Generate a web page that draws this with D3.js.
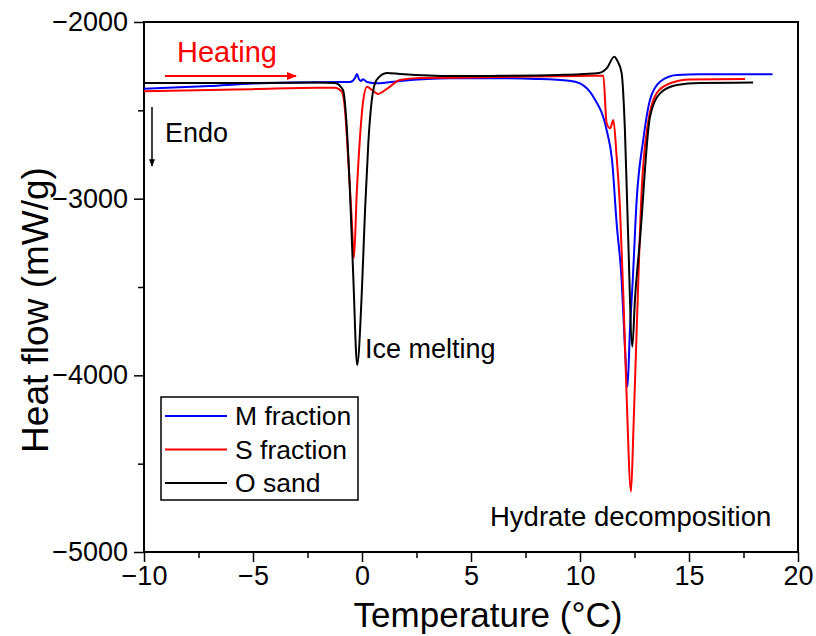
<!DOCTYPE html>
<html>
<head>
<meta charset="utf-8">
<script src="https://cdn.jsdelivr.net/npm/d3@7"></script>
<style>
  body { margin: 0; background: #fff; }
  svg { font-family: "Liberation Sans", Arial, sans-serif; }
</style>
</head>
<body>
<svg id="chart" width="816" height="636"></svg>
<script>
// Temperature (°C) / heat flow (mW/g) readings for each sample
const mFraction = [
    [-10, -2378], [-7, -2362], [-5, -2348], [-3, -2342], [-1, -2340], [-0.55, -2340],
    [-0.32, -2317], [-0.23, -2294], [-0.14, -2323], [-0.05, -2334], [0.05, -2324],
    [0.23, -2340], [0.69, -2347], [1.74, -2334], [4.04, -2319], [6, -2318], [8, -2322],
    [9.5, -2332], [10.0, -2347], [10.61, -2423], [11.22, -2611], [11.47, -2781],
    [11.68, -3138], [11.91, -3460], [12.06, -3838], [12.18, -4064], [12.29, -3743],
    [12.42, -3460], [12.60, -3007], [12.90, -2668], [13.21, -2441], [13.67, -2338],
    [14.44, -2300], [15.5, -2296], [18.83, -2296]
];
const sFraction = [
    [-10, -2392], [-7, -2385], [-5, -2380], [-2, -2372], [-1.24, -2372], [-0.92, -2396],
    [-0.78, -2498], [-0.63, -2781], [-0.47, -3121], [-0.37, -3336], [-0.24, -2968],
    [-0.09, -2649], [0.06, -2441], [0.23, -2366], [0.46, -2385], [0.73, -2407],
    [1.19, -2374], [1.74, -2328], [2.66, -2317], [4.04, -2315], [7, -2310], [10, -2305],
    [11.07, -2304], [11.22, -2572], [11.38, -2602], [11.53, -2555], [11.68, -2762],
    [11.83, -3045], [11.99, -3555], [12.14, -4121], [12.34, -4658], [12.45, -4309],
    [12.60, -3743], [12.83, -2951], [13.12, -2572], [13.52, -2402], [14.13, -2347],
    [15.05, -2325], [17.57, -2323]
];
const oSand = [
    [-10, -2345], [-5, -2345], [-2, -2343], [-1.24, -2345], [-0.87, -2385],
    [-0.70, -2593], [-0.55, -2968], [-0.40, -3442], [-0.22, -3941], [-0.01, -3534],
    [0.14, -3064], [0.29, -2685], [0.45, -2441], [0.67, -2328], [1.15, -2289],
    [1.74, -2294], [4.04, -2306], [6, -2305], [9, -2300], [10, -2296], [10.92, -2287],
    [11.24, -2260], [11.57, -2196], [11.74, -2226], [11.91, -2289], [12.06, -2611],
    [12.20, -3177], [12.40, -3838], [12.52, -3573], [12.75, -3234], [13.21, -2536],
    [13.67, -2404], [14.44, -2357], [15.5, -2345], [17.94, -2343]
];

const seriesNames = ["M fraction", "S fraction", "O sand"];
const seriesColors = ["#0000ff", "#ff0000", "#000000"];
const seriesData = [mFraction, sFraction, oSand];

const xTicks = [-10, -5, 0, 5, 10, 15, 20];
const yTicks = [-2000, -3000, -4000, -5000];

const margin = { left: 144, right: 18, top: 22, bottom: 84 };
const width = 816, height = 636;

const svg = d3.select("#chart");

const x = d3.scaleLinear()
    .domain([-10, 20])
    .range([margin.left, width - margin.right]);

const y = d3.scaleLinear()
    .domain([-5000, -2000])
    .range([height - margin.bottom, margin.top]);

// minor ticks
svg.append("g")
    .attr("transform", `translate(0,${height - margin.bottom})`)
    .call(d3.axisBottom(x).tickValues(d3.range(-7.5, 20, 5)).tickSize(6).tickFormat(""))
    .call(g => g.select(".domain").remove())
    .selectAll("line").attr("stroke-width", 1.5);

svg.append("g")
    .attr("transform", `translate(${margin.left},0)`)
    .call(d3.axisLeft(y).tickValues([-2500, -3500, -4500]).tickSize(6).tickFormat(""))
    .call(g => g.select(".domain").remove())
    .selectAll("line").attr("stroke-width", 1.5);

// major ticks and labels
const xAxis = svg.append("g")
    .attr("transform", `translate(0,${height - margin.bottom})`)
    .call(d3.axisBottom(x).tickValues(xTicks).tickSize(10).tickPadding(4).tickFormat(d => d < 0 ? "\u2212" + Math.abs(d) : d))
    .call(g => g.select(".domain").remove());
xAxis.selectAll("line").attr("stroke-width", 1.5);
xAxis.selectAll("text").attr("font-size", 27).attr("fill", "#000").attr("font-family", "Liberation Sans, Arial, sans-serif");

const yAxis = svg.append("g")
    .attr("transform", `translate(${margin.left},0)`)
    .call(d3.axisLeft(y).tickValues(yTicks).tickSize(10).tickPadding(6).tickFormat(d => "\u2212" + Math.abs(d)))
    .call(g => g.select(".domain").remove());
yAxis.selectAll("line").attr("stroke-width", 1.5);
yAxis.selectAll("text").attr("font-size", 27).attr("fill", "#000").attr("font-family", "Liberation Sans, Arial, sans-serif");

// frame
svg.append("rect")
    .attr("x", margin.left)
    .attr("y", margin.top)
    .attr("width", width - margin.left - margin.right)
    .attr("height", height - margin.top - margin.bottom)
    .attr("fill", "none")
    .attr("stroke", "#000")
    .attr("stroke-width", 2);

// curves
const line = d3.line()
    .x(d => x(d[0]))
    .y(d => y(d[1]))
    .curve(d3.curveMonotoneX);

seriesData.forEach((data, i) => {
    svg.append("path")
        .datum(data)
        .attr("fill", "none")
        .attr("stroke", seriesColors[i])
        .attr("stroke-width", 2)
        .attr("stroke-linejoin", "round")
        .attr("d", line);
});

// axis titles
svg.append("text")
    .attr("x", 488)
    .attr("y", 627)
    .attr("text-anchor", "middle")
    .attr("font-size", 35)
    .text("Temperature (°C)");

svg.append("text")
    .attr("transform", `translate(48,310) rotate(-90)`)
    .attr("text-anchor", "middle")
    .attr("font-size", 37)
    .text("Heat flow (mW/g)");

// annotations
svg.append("defs").selectAll("marker")
    .data([["arrowRed", "#ff0000"], ["arrowBlack", "#000000"]])
    .join("marker")
    .attr("id", d => d[0])
    .attr("viewBox", "0 0 10 10")
    .attr("refX", 9)
    .attr("refY", 5)
    .attr("markerWidth", 5)
    .attr("markerHeight", 5)
    .attr("orient", "auto")
    .append("path")
    .attr("d", "M0,1 L10,5 L0,9 Z")
    .attr("fill", d => d[1]);

svg.append("text")
    .attr("x", 177)
    .attr("y", 62)
    .attr("font-size", 29)
    .attr("fill", "#ff0000")
    .text("Heating");

svg.append("line")
    .attr("x1", 165).attr("y1", 76)
    .attr("x2", 296).attr("y2", 76)
    .attr("stroke", "#ff0000")
    .attr("stroke-width", 2)
    .attr("marker-end", "url(#arrowRed)");

svg.append("line")
    .attr("x1", 152).attr("y1", 107)
    .attr("x2", 152).attr("y2", 166)
    .attr("stroke", "#000")
    .attr("stroke-width", 1.5)
    .attr("marker-end", "url(#arrowBlack)");

svg.append("text")
    .attr("x", 165)
    .attr("y", 142)
    .attr("font-size", 27)
    .text("Endo");

svg.append("text")
    .attr("x", 365)
    .attr("y", 358)
    .attr("font-size", 27)
    .text("Ice melting");

svg.append("text")
    .attr("x", 490)
    .attr("y", 526)
    .attr("font-size", 27.5)
    .text("Hydrate decomposition");

// legend
const legend = svg.append("g");
legend.append("rect")
    .attr("x", 161)
    .attr("y", 397)
    .attr("width", 197)
    .attr("height", 103)
    .attr("fill", "#fff")
    .attr("stroke", "#000")
    .attr("stroke-width", 1.5);

seriesNames.forEach((name, i) => {
    const rowY = 416 + i * 33.5;
    legend.append("line")
        .attr("x1", 165).attr("x2", 227)
        .attr("y1", rowY).attr("y2", rowY)
        .attr("stroke", seriesColors[i])
        .attr("stroke-width", 2);
    legend.append("text")
        .attr("x", 235)
        .attr("y", rowY + 9)
        .attr("font-size", 26.5)
        .text(name);
});
</script>
</body>
</html>
